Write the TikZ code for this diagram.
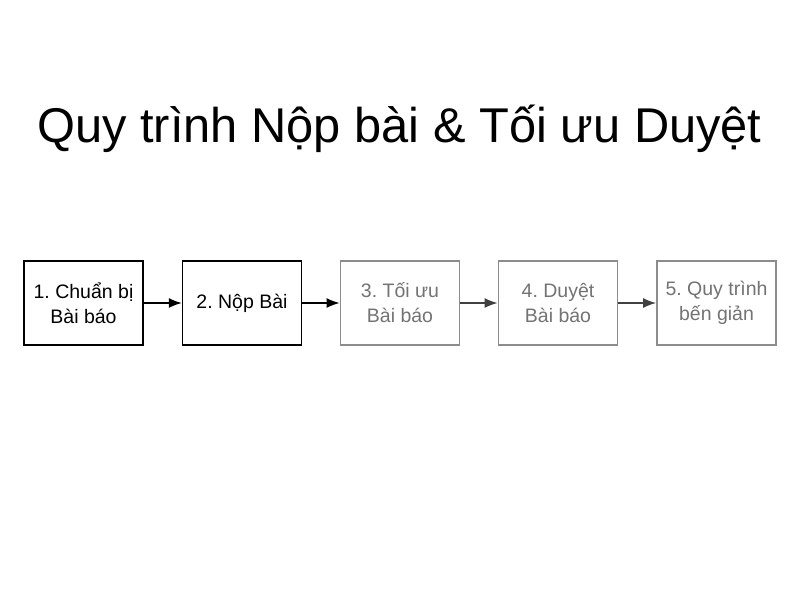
\documentclass[tikz,border=0pt]{standalone}
\usepackage{fontspec}
\setmainfont{Liberation Sans}
\usetikzlibrary{arrows.meta}
\begin{document}
\frenchspacing
\begin{tikzpicture}[x=1pt,y=-1pt,
  stepbox/.style={draw=black,line width=1.3pt,minimum width=119pt,minimum height=84pt,align=center,font=\fontsize{19.5}{25}\selectfont,inner sep=0pt},
  fadebox/.style={stepbox,draw=black!45,text=black!55,line width=1.8pt},
  flow/.style={-{Latex[length=13pt,width=10pt]},line width=1.4pt},
  fadeflow/.style={flow,draw=black!75}]
\useasboundingbox[fill=white] (0,0) rectangle (800,600);
\node[font=\fontsize{48.8}{55}\selectfont] (title) at (399.5,129) {Quy trình Nộp bài \& Tối ưu Duyệt};
\node[stepbox] (s1) at (83.5,303) {1. Chuẩn bị\\Bài báo};
\node[stepbox] (s2) at (242,303) {2. Nộp Bài};
\node[fadebox] (s3) at (400,303) {3. Tối ưu\\Bài báo};
\node[fadebox] (s4) at (558,303) {4. Duyệt\\Bài báo};
\node[fadebox] (s5) at (716.5,303) {5. Quy trình\\bến giản};
\draw[flow] (s1) -- (s2);
\draw[flow] (s2) -- (s3);
\draw[fadeflow] (s3) -- (s4);
\draw[fadeflow] (s4) -- (s5);
\end{tikzpicture}
\end{document}
